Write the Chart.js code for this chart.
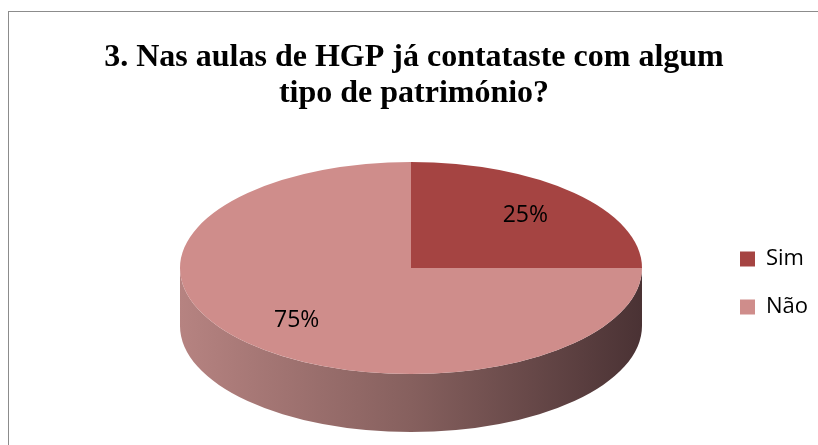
<!DOCTYPE html>
<html>
<head>
<meta charset="utf-8">
<script src="https://cdn.jsdelivr.net/npm/chart.js@4"></script>
<style>
html, body { margin: 0; padding: 0; background: #fff; overflow: hidden; }
#wrap { position: relative; width: 818px; height: 445px; }
#frame { position: absolute; left: 8px; top: 11px; width: 900px; height: 500px; border: 1px solid #8c8c8c; }
canvas { position: absolute; left: 0; top: 0; }
</style>
</head>
<body>
<div id="wrap">
  <div id="frame"></div>
  <canvas id="chart" width="818" height="445"></canvas>
</div>
<script>
const titleLines = ['3. Nas aulas de HGP já contataste com algum', 'tipo de património?'];
const labels = ['Sim', 'Não'];
const values = [25, 75];
const colors = ['#a54442', '#cf8d8b'];

// where the flattened pie sits on the page
const PIE = { cx: 411, cy: 268, rx: 231, ry: 106, depth: 58 };
const LABEL_R = 0.7;

const pie3d = {
    id: 'pie3d',
    beforeDatasetsDraw(chart) {
        const arcs = chart.getDatasetMeta(0).data;
        if (!arcs.length) return;
        const ctx = chart.ctx;
        const { x, y, outerRadius: r } = arcs[0];
        ctx.save();
        // side wall of the pie, only the front half shows
        const grad = ctx.createLinearGradient(PIE.cx - PIE.rx, 0, PIE.cx + PIE.rx, 0);
        grad.addColorStop(0, '#b68381');
        grad.addColorStop(0.5, '#86605e');
        grad.addColorStop(1, '#4a3234');
        arcs.forEach(a => {
            const s = Math.max(a.startAngle, 0), e = Math.min(a.endAngle, Math.PI);
            if (e <= s) return;
            ctx.beginPath();
            ctx.ellipse(PIE.cx, PIE.cy, PIE.rx, PIE.ry, 0, s, e);
            ctx.ellipse(PIE.cx, PIE.cy + PIE.depth, PIE.rx, PIE.ry, 0, e, s, true);
            ctx.closePath();
            ctx.fillStyle = grad;
            ctx.fill();
        });
        // squash the round pie into an ellipse
        ctx.translate(PIE.cx, PIE.cy);
        ctx.scale(PIE.rx / r, PIE.ry / r);
        ctx.translate(-x, -y);
    },
    afterDatasetsDraw(chart) {
        const ctx = chart.ctx;
        ctx.restore();
        const arcs = chart.getDatasetMeta(0).data;
        const total = values.reduce((a, b) => a + b, 0);
        ctx.save();
        ctx.font = '23px "Open Sans"';
        ctx.fillStyle = '#000';
        ctx.textAlign = 'center';
        ctx.textBaseline = 'middle';
        arcs.forEach((a, i) => {
            const mid = (a.startAngle + a.endAngle) / 2;
            const lx = PIE.cx + Math.cos(mid) * PIE.rx * LABEL_R;
            const ly = PIE.cy + Math.sin(mid) * PIE.ry * LABEL_R;
            ctx.fillText(Math.round(values[i] / total * 100) + '%', lx, ly);
        });
        ctx.restore();
    }
};

new Chart(document.getElementById('chart').getContext('2d'), {
    type: 'pie',
    data: {
        labels: labels,
        datasets: [{
            data: values,
            backgroundColor: colors,
            borderWidth: 0,
            clip: false
        }]
    },
    options: {
        responsive: false,
        animation: false,
        layout: { padding: { left: 10, bottom: 101 } },
        plugins: {
            title: {
                display: true,
                text: titleLines,
                color: '#000',
                font: { family: '"Liberation Serif"', size: 32, weight: 'bold', lineHeight: 1.12 },
                padding: { top: 40, bottom: 10 }
            },
            legend: {
                position: 'right',
                align: 'end',
                maxWidth: 104,
                labels: {
                    color: '#000',
                    boxWidth: 15,
                    boxHeight: 15,
                    padding: 26,
                    font: { family: '"Open Sans"', size: 22 }
                }
            },
            tooltip: { enabled: false }
        }
    },
    plugins: [pie3d]
});
</script>
</body>
</html>
